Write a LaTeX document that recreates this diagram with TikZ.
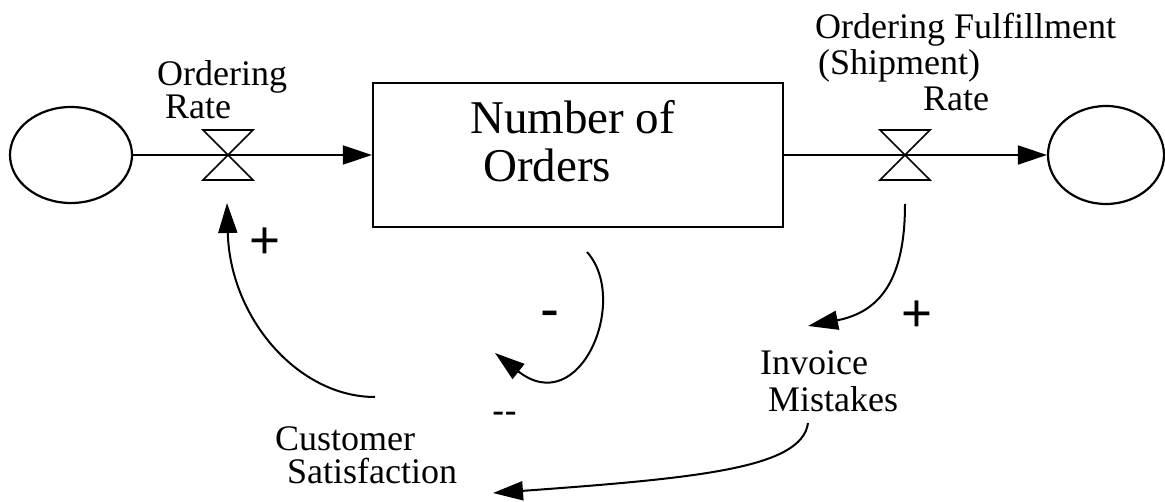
\documentclass[tikz,border=0pt]{standalone}
\usepackage{fontspec}
\setmainfont{Liberation Serif}
\newfontfamily\signfont{Liberation Sans}
\usetikzlibrary{arrows.meta,shapes.geometric}

\tikzset{
  cloud/.style={draw, ellipse, line width=2.2pt, inner sep=0pt,
                minimum width=122pt, minimum height=96pt},
  stock/.style={draw, rectangle, line width=2.2pt, inner sep=0pt,
                minimum width=410pt, minimum height=144pt},
  flow/.style={line width=2pt, -{Triangle[length=29pt,width=19pt]}},
  link/.style={line width=2pt, -{Triangle[length=30pt,width=19pt]}},
  valvetri/.style={draw, fill=white, line width=1.6pt, line join=miter},
  label/.style={inner sep=0pt, anchor=north west, align=left},
  sign/.style={inner sep=0pt, anchor=base},
  pics/valve/.style={code={
    \draw[valvetri] (-25,-25) -- (25,-25) -- (0,0) -- cycle;
    \draw[valvetri] (0,0) -- (-25,25) -- (25,25) -- cycle;
  }}
}

\begin{document}
\begin{tikzpicture}[x=1pt,y=-1pt]
\useasboundingbox (0,0) rectangle (1165,502);
\fill[white] (0,0) rectangle (1165,502);

% stock, source and sink
\node[cloud] (source) at (71,155) {};
\node[stock] (box) at (578,155) {};
\node[cloud, minimum width=116pt, minimum height=98pt] (sink) at (1106,155) {};
\node[label, font=\fontsize{47}{48}\selectfont] (stockText) at (470,100)
  {Number of\\\hspace*{13pt}Orders};

% material flows with their valves
\draw[flow] (source.east) -- (box.west);
\draw[flow] (box.east) -- (sink.west);
\pic at (228,155) {valve};
\pic at (905,155) {valve};

% variable names
\node[label, font=\fontsize{36}{33}\selectfont] (ordRate) at (157,60)
  {Ordering\\\hspace*{8pt}Rate};
\node[label, font=\fontsize{36}{36}\selectfont] (shipRate) at (815,13)
  {Ordering Fulfillment\\\hspace*{3pt}(Shipment)\\\hspace*{108pt}Rate};
\node[label, font=\fontsize{36}{33}\selectfont] (custSat) at (275,426)
  {Customer\\\hspace*{12pt}Satisfaction};
\node[label, font=\fontsize{36}{37}\selectfont] (invMist) at (760,350)
  {Invoice\\\hspace*{8pt}Mistakes};

% end points of the causal links
\coordinate (csOut) at (375,397);
\coordinate (ordIn) at (227,203);
\coordinate (stockOut) at (587,252);
\coordinate (stockTip) at (495,353);
\coordinate (shipOut) at (905,204);
\coordinate (invIn) at (808,326);
\coordinate (invOut) at (808,423);
\coordinate (csIn) at (493,493);

% causal links
\draw[link] (csOut) .. controls (298,397) and (230,318) .. (ordIn);
\draw[link] (stockOut) .. controls (630,300) and (580,420) .. (stockTip);
\draw[link] (shipOut) .. controls (905,280) and (880,312) .. (invIn);
\draw[link] (invOut) .. controls (802,468) and (700,478) .. (csIn);

% link polarities
\node[sign, font=\signfont\fontsize{53}{53}\selectfont] (plusCS) at (265,259) {+};
\node[sign, font=\signfont\fontsize{57}{57}\selectfont] (minusStock) at (550,329) {-};
\node[sign, font=\signfont\fontsize{37}{37}\selectfont] (minusInv) at (504.5,424) {\mbox{-}\mbox{-}};
\node[sign, font=\signfont\fontsize{53}{53}\selectfont] (plusInv) at (917,332) {+};
\end{tikzpicture}
\end{document}
